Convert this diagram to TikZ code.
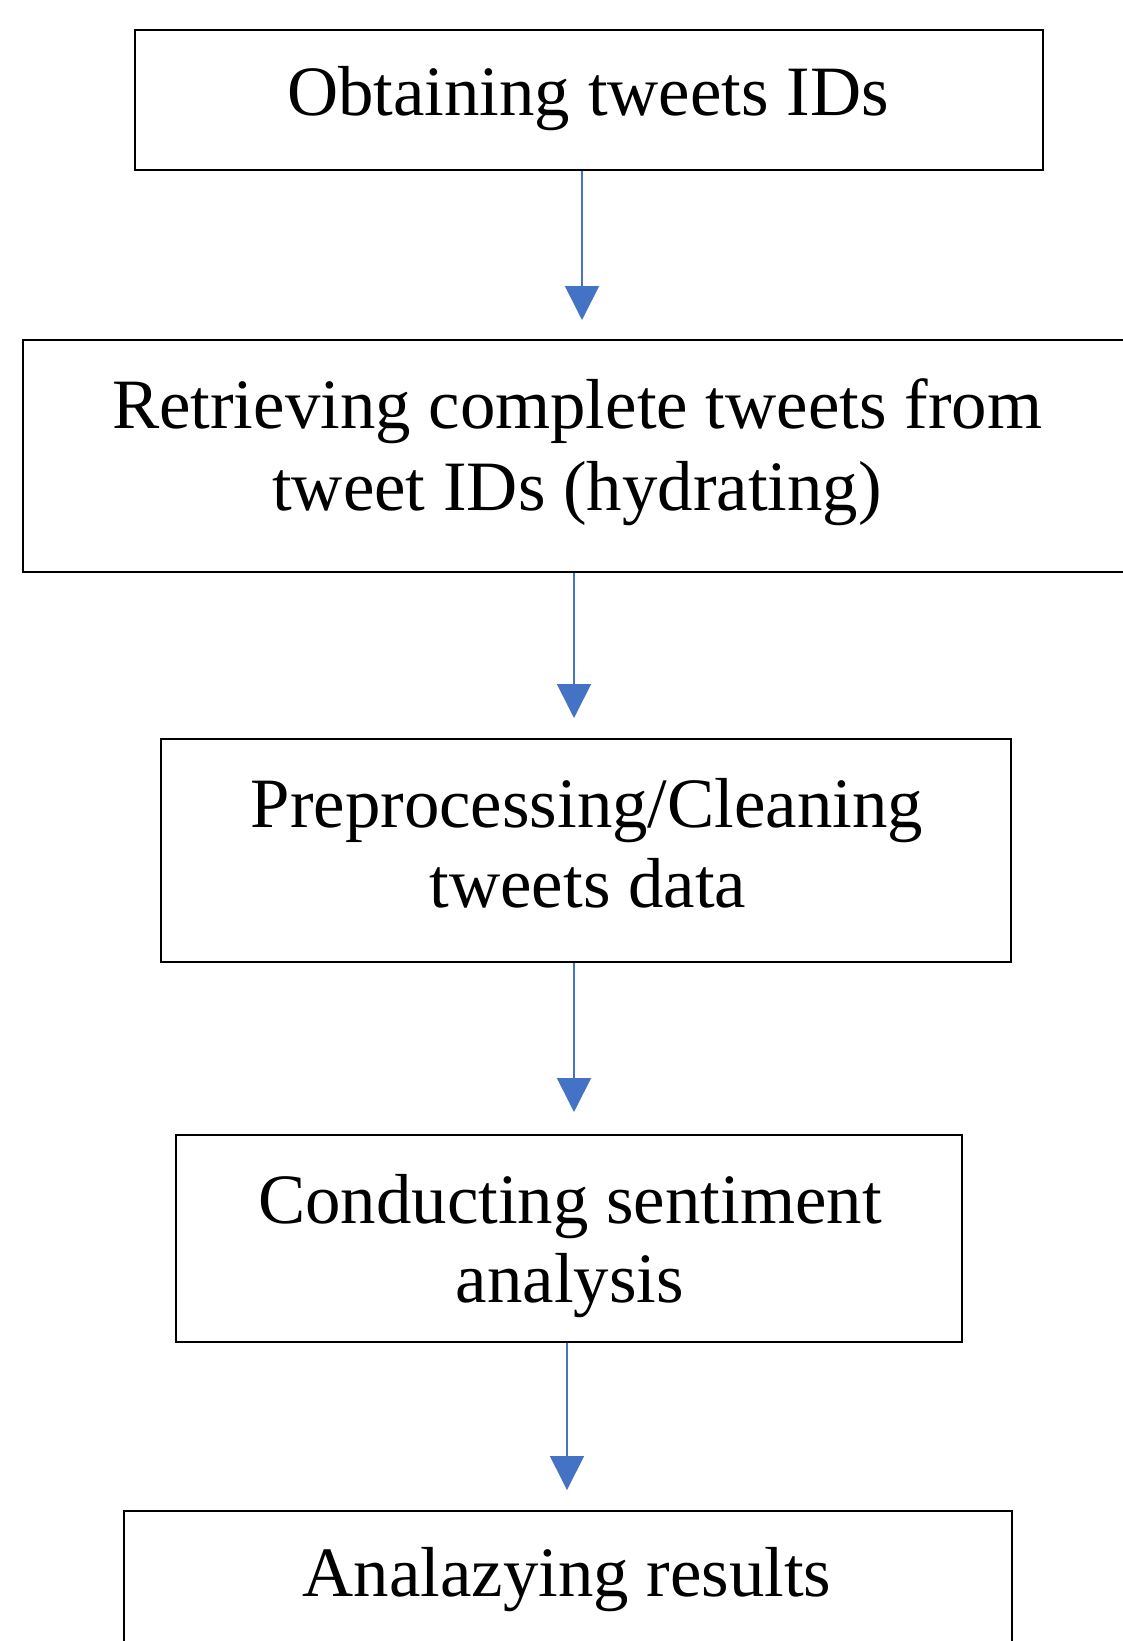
\documentclass[tikz,border=0pt]{standalone}
\usepackage{fontspec}
\setmainfont{Liberation Serif}
\usetikzlibrary{arrows.meta}
\definecolor{arrowblue}{RGB}{68,114,196}
\begin{document}
\begin{tikzpicture}[x=1pt,y=-1pt,
  box/.style={draw=black, line width=2pt, inner sep=0pt},
  txt/.style={anchor=base, inner sep=0pt, font=\fontsize{70.8}{81}\selectfont},
  flow/.style={draw=arrowblue, line width=1.6pt, -{Triangle[width=34pt,length=34pt]}}]
\fill[white] (0,0) rectangle (1123,1641);
\useasboundingbox (0,0) rectangle (1123,1641);
\clip (0,0) rectangle (1123,1641);
% boxes
\node[box, minimum width=908pt, minimum height=140pt] (b1) at (589,100) {};
\node[box, minimum width=1108pt, minimum height=232pt] (b2) at (577,456) {};
\node[box, minimum width=850pt, minimum height=223pt] (b3) at (586,850.5) {};
\node[box, minimum width=786pt, minimum height=207pt] (b4) at (569,1238.5) {};
\node[box, minimum width=888pt, minimum height=150pt] (b5) at (568,1586) {};
% texts
\node[txt] (l1) at (588,115) {Obtaining tweets IDs};
\node[txt] (l2a) at (577,428) {Retrieving complete tweets from};
\node[txt] (l2b) at (577,510) {tweet IDs (hydrating)};
\node[txt] (l3a) at (587,827) {Preprocessing/Cleaning};
\node[txt] (l3b) at (588,907) {tweets data};
\node[txt] (l4a) at (570,1223) {Conducting sentiment};
\node[txt] (l4b) at (570,1302) {analysis};
\node[txt] (l5) at (567,1596) {Analazying results};
% connectors
\coordinate (t1) at (582,320);
\coordinate (t2) at (574,718);
\coordinate (t3) at (574,1112);
\coordinate (t4) at (567,1490);
\draw[flow] (b1.south -| t1) -- (t1);
\draw[flow] (b2.south -| t2) -- (t2);
\draw[flow] (b3.south -| t3) -- (t3);
\draw[flow] (b4.south -| t4) -- (t4);
\end{tikzpicture}
\end{document}
